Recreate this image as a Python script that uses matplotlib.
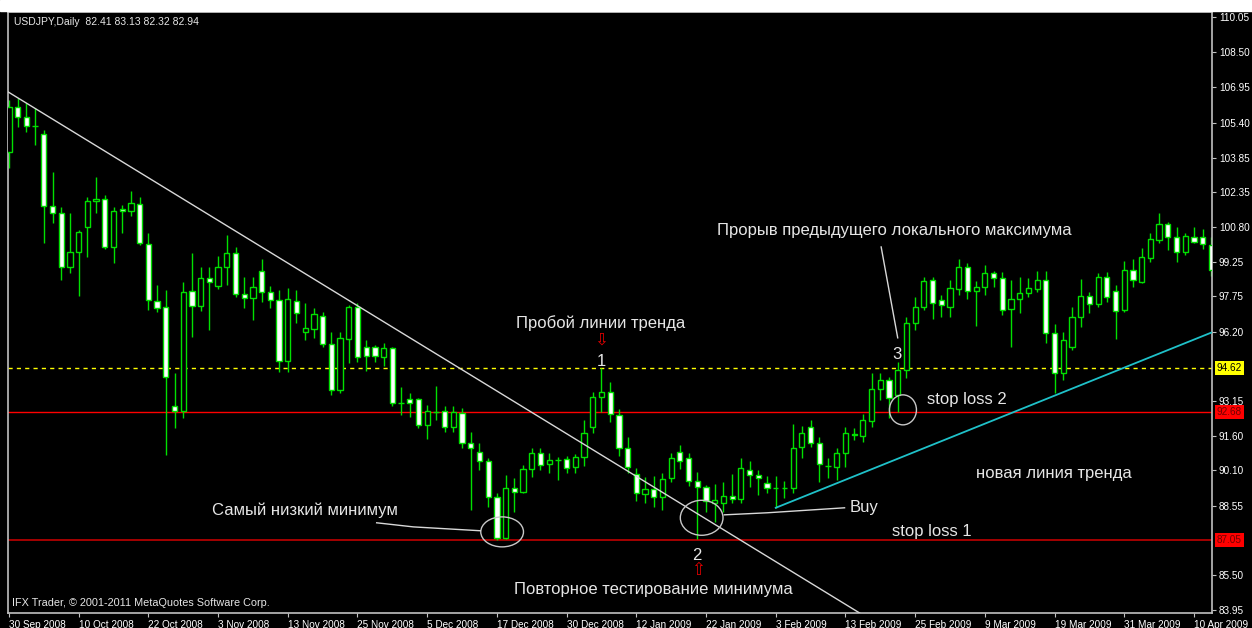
import matplotlib.pyplot as plt
from matplotlib.patches import Ellipse, Rectangle
import numpy as np

# ---- data (USDJPY daily) ----
date_labels = ['30 Sep 2008', '10 Oct 2008', '22 Oct 2008', '3 Nov 2008', '13 Nov 2008',
               '25 Nov 2008', '5 Dec 2008', '17 Dec 2008', '30 Dec 2008', '12 Jan 2009',
               '22 Jan 2009', '3 Feb 2009', '13 Feb 2009', '25 Feb 2009', '9 Mar 2009',
               '19 Mar 2009', '31 Mar 2009', '10 Apr 2009']
date_bars = [0, 8, 16, 24, 32, 40, 48, 56, 64, 72, 80, 88, 96, 104, 112, 120, 128, 136]

opens = [104.11, 106.09, 105.65, 105.26, 104.90, 101.74, 101.43, 99.05, 99.71, 100.81,
         101.96, 102.04, 99.93, 101.60, 101.52, 101.82, 100.06, 97.56, 97.29, 92.94,
         92.72, 98.00, 97.34, 98.57, 98.22, 99.05, 99.67, 97.86, 97.69, 98.88,
         97.95, 97.60, 94.92, 97.56, 96.19, 96.32, 96.90, 95.66, 93.64, 95.88,
         97.29, 95.53, 95.53, 95.09, 95.47, 93.07, 93.24, 93.24, 92.10, 92.67,
         92.72, 92.01, 92.63, 91.31, 90.91, 90.52, 88.93, 87.13, 89.33, 89.15,
         90.16, 90.87, 90.38, 90.56, 90.60, 90.25, 90.69, 92.01, 93.33, 93.55,
         92.54, 91.09, 89.94, 89.06, 89.28, 88.93, 89.77, 90.91, 90.65, 89.64,
         89.37, 88.67, 88.67, 88.98, 88.84, 90.12, 89.90, 89.55, 89.33, 89.33,
         89.33, 91.13, 92.01, 91.31, 90.30, 90.25, 90.87, 91.70, 91.62, 92.28,
         93.68, 94.08, 93.42, 94.52, 96.59, 97.29, 98.48, 97.60, 97.29, 98.08,
         99.05, 98.00, 98.17, 98.79, 98.57, 97.20, 97.64, 97.91, 98.08, 98.48,
         96.15, 94.39, 95.53, 96.85, 97.78, 97.42, 98.61, 98.00, 97.16, 98.92,
         98.39, 99.45, 100.24, 100.94, 100.37, 99.71, 100.37, 100.37, 100.02]
highs = [106.40, 106.49, 106.27, 106.05, 105.08, 103.23, 101.69, 101.43, 100.68, 102.13,
         103.01, 102.22, 101.69, 101.78, 102.40, 102.13, 100.55, 98.26, 98.04, 94.39,
         98.39, 99.67, 99.05, 99.05, 99.54, 100.46, 99.93, 98.61, 98.61, 99.40,
         98.22, 98.04, 98.13, 98.04, 97.47, 97.25, 97.07, 96.19, 96.19, 97.38,
         97.47, 95.84, 95.62, 95.71, 95.53, 93.77, 93.51, 93.29, 92.98, 93.82,
         92.94, 92.94, 92.85, 91.79, 91.31, 90.65, 89.11, 89.90, 89.77, 90.34,
         91.09, 91.09, 90.87, 90.69, 90.74, 90.82, 92.32, 93.55, 94.61, 94.00,
         92.80, 91.57, 90.21, 89.81, 89.86, 89.99, 90.87, 91.22, 90.87, 90.03,
         89.46, 89.50, 89.59, 89.94, 90.65, 90.52, 90.12, 89.86, 89.86, 89.64,
         92.14, 92.06, 92.32, 91.57, 90.65, 91.09, 92.01, 91.97, 92.58, 94.39,
         94.39, 94.21, 94.87, 96.85, 97.73, 98.61, 98.61, 97.82, 98.48, 99.40,
         99.23, 98.44, 99.14, 98.88, 98.83, 98.48, 98.61, 98.57, 98.88, 98.88,
         96.54, 96.19, 97.29, 98.52, 97.95, 98.79, 98.83, 98.26, 99.32, 99.40,
         99.89, 100.55, 101.43, 101.03, 100.81, 100.55, 100.81, 100.72, 100.37]
lows = [103.41, 105.21, 104.99, 104.42, 100.11, 100.99, 98.48, 98.79, 97.78, 99.49,
        101.43, 99.84, 99.23, 100.55, 101.30, 100.02, 97.16, 97.07, 90.78, 91.97,
        92.41, 95.97, 97.12, 96.28, 98.08, 98.26, 97.73, 97.25, 96.72, 97.51,
        97.25, 94.43, 94.43, 96.59, 95.84, 95.93, 95.53, 93.42, 93.51, 94.83,
        94.87, 94.48, 94.87, 94.70, 92.94, 92.54, 92.45, 91.97, 91.48, 92.32,
        91.79, 91.79, 91.09, 88.36, 90.12, 88.49, 87.04, 87.08, 88.27, 89.11,
        89.81, 90.12, 89.99, 89.68, 89.99, 89.99, 90.30, 91.75, 92.67, 92.23,
        90.74, 89.99, 88.76, 88.67, 88.49, 88.36, 89.59, 90.16, 89.42, 87.08,
        88.27, 87.83, 88.27, 88.67, 88.67, 89.37, 89.02, 89.11, 88.45, 88.89,
        89.11, 90.65, 91.13, 89.59, 89.77, 89.68, 90.25, 91.44, 91.35, 92.01,
        93.20, 92.41, 92.67, 94.17, 96.28, 97.16, 96.76, 96.85, 96.85, 97.82,
        97.64, 96.46, 97.82, 98.17, 96.94, 95.53, 97.03, 97.73, 97.95, 95.71,
        93.51, 94.08, 95.40, 96.41, 97.03, 97.29, 97.51, 95.88, 97.07, 98.17,
        98.35, 99.27, 100.11, 99.80, 99.27, 99.58, 100.11, 99.84, 98.66]
closes = [106.09, 105.65, 105.26, 105.24, 101.74, 101.43, 99.05, 99.71, 100.59, 101.96,
          102.04, 99.93, 101.52, 101.52, 101.87, 100.11, 97.60, 97.25, 94.21, 92.72,
          97.95, 97.34, 98.57, 98.39, 99.05, 99.67, 97.86, 97.69, 98.17, 97.95,
          97.60, 94.92, 97.64, 97.03, 96.37, 96.98, 95.66, 93.64, 95.93, 97.29,
          95.09, 95.14, 95.14, 95.49, 93.07, 93.05, 93.07, 92.10, 92.72, 92.67,
          92.01, 92.67, 91.31, 91.09, 90.52, 88.93, 87.13, 89.33, 89.15, 90.16,
          90.87, 90.34, 90.56, 90.56, 90.21, 90.69, 91.75, 93.33, 93.55, 92.58,
          91.09, 90.25, 89.11, 89.28, 88.93, 89.72, 90.65, 90.52, 89.64, 89.37,
          88.76, 88.80, 88.98, 88.84, 90.21, 89.90, 89.77, 89.33, 89.33, 89.33,
          91.09, 91.75, 91.31, 90.38, 90.30, 90.87, 91.75, 91.66, 92.32, 93.68,
          94.08, 93.29, 94.52, 96.59, 97.29, 98.44, 97.47, 97.38, 98.13, 99.05,
          98.00, 98.17, 98.79, 98.57, 97.16, 97.64, 97.91, 98.13, 98.48, 96.15,
          94.39, 95.84, 96.85, 97.78, 97.42, 98.61, 97.73, 97.12, 98.92, 98.48,
          99.49, 100.28, 100.94, 100.37, 99.71, 100.42, 100.15, 100.06, 98.92]

price_ticks = [110.05, 108.50, 106.95, 105.40, 103.85, 102.35, 100.80, 99.25, 97.75,
               96.20, 93.15, 91.60, 90.10, 88.55, 85.50, 83.95]

level_high = 94.62   # yellow dashed
level_sl2 = 92.68    # stop loss 2
level_sl1 = 87.05    # stop loss 1

# trend lines (bar, price)
down_trend = [(0, 106.73), (90, 85.61)]
up_trend = [(88, 88.45), (140, 96.47)]

# ---- plot ----
GREEN = '#00e000'
TXT = '#e6e6e6'
plt.rcParams['font.family'] = ['Liberation Sans', 'DejaVu Sans']

fig = plt.figure(figsize=(12.52, 6.28), dpi=100, facecolor='black')
ax = fig.add_axes([8 / 1252, 15 / 628, 1204 / 1252, 601 / 628])
ax.set_facecolor('black')

x = np.arange(len(opens))
o = np.array(opens)
c = np.array(closes)
ax.vlines(x, lows, highs, color=GREEN, lw=1, zorder=2)
fills = ['black' if cc > oo else 'white' for oo, cc in zip(o, c)]
ax.bar(x, np.abs(c - o), bottom=np.minimum(o, c), width=0.6, color=fills,
       edgecolor=GREEN, linewidth=1, zorder=3)

# horizontal levels
ax.axhline(level_high, color='#ffff00', lw=1, ls=(0, (3, 3)), zorder=1)
ax.axhline(level_sl2, color='#ff0000', lw=1, zorder=1)
ax.axhline(level_sl1, color='#c00000', lw=1.2, zorder=1)

# trend lines
ax.axline(down_trend[0], down_trend[1], color='#d8d8d8', lw=1, zorder=4)
ax.plot([p[0] for p in up_trend], [p[1] for p in up_trend], color='#1fc1c9', lw=1.3, zorder=4)

# ellipses
for cx, cy, w, h in [(56.6, 87.39, 4.9, 1.32), (79.5, 88.01, 4.9, 1.54), (102.6, 92.76, 3.1, 1.32)]:
    ax.add_patch(Ellipse((cx, cy), w, h, fill=False, edgecolor='#c8c8c8', lw=1, zorder=5))

# pointer lines
ax.plot([42.2, 46.4, 54.1], [87.79, 87.61, 87.44], color='#d8d8d8', lw=1, zorder=5)
ax.plot([82.1, 87.0, 95.9], [88.14, 88.23, 88.45], color='#d8d8d8', lw=1, zorder=5)
ax.plot([100.1, 102.0], [99.93, 95.93], color='#d8d8d8', lw=1, zorder=5)

# annotations
fs = 12.0
ax.text(67.9, 96.60, 'Пробой линии тренда', color=TXT, fontsize=fs, ha='center', va='center')
ax.text(74.0, 84.84, 'Повторное тестирование минимума', color=TXT, fontsize=fs, ha='center', va='center')
ax.text(34.0, 88.36, 'Самый низкий минимум', color=TXT, fontsize=fs, ha='center', va='center')
ax.text(96.5, 88.45, 'Buy', color=TXT, fontsize=fs, ha='left', va='center')
ax.text(101.3, 87.39, 'stop loss 1', color=TXT, fontsize=fs, ha='left', va='center')
ax.text(105.4, 93.20, 'stop loss 2', color=TXT, fontsize=fs, ha='left', va='center')
ax.text(111.0, 89.94, 'новая линия тренда', color=TXT, fontsize=fs, ha='left', va='center')
ax.text(81.3, 100.64, 'Прорыв предыдущего локального максимума', color=TXT, fontsize=fs,
        ha='left', va='center')
ax.text(68.0, 94.91, '1', color=TXT, fontsize=fs, ha='center', va='center')
ax.text(79.0, 86.34, '2', color=TXT, fontsize=fs, ha='center', va='center')
ax.text(101.9, 95.18, '3', color=TXT, fontsize=fs, ha='center', va='center')
ax.text(68.0, 95.84, '⇩', color='#e00000', fontsize=12, ha='center', va='center', family='DejaVu Sans')
ax.text(79.1, 85.70, '⇧', color='#e00000', fontsize=12, ha='center', va='center', family='DejaVu Sans')

# header / footer
ax.text(0.005, 0.983, 'USDJPY,Daily  82.41 83.13 82.32 82.94', transform=ax.transAxes,
        color=TXT, fontsize=7.5, ha='left', va='center')
ax.text(0.0033, 0.0166, 'IFX Trader, © 2001-2011 MetaQuotes Software Corp.', transform=ax.transAxes,
        color=TXT, fontsize=7.8, ha='left', va='center')

# axes
ax.set_xlim(-0.11, 138.07)
ax.set_ylim(83.82, 110.27)
for s in ax.spines.values():
    s.set_color('#c0c0c0')
    s.set_linewidth(1.2)
ax.yaxis.tick_right()
ax.set_yticks(price_ticks)
ax.set_yticklabels(['%.2f' % p for p in price_ticks])
ax.set_xticks(date_bars)
ax.set_xticklabels(date_labels, ha='left')
ax.tick_params(colors='#c0c0c0', labelcolor='white', labelsize=7.2, length=3, pad=2)

# price boxes on the axis
ytr = ax.get_yaxis_transform()
box_fs = 7.2
ax.text(1.004, level_high, '%.2f' % level_high, transform=ytr, fontsize=box_fs, color='black',
        ha='left', va='center', bbox=dict(boxstyle='square,pad=0.2', fc='#ffff00', ec='none'), clip_on=False)
ax.text(1.004, level_sl2, '%.2f' % level_sl2, transform=ytr, fontsize=box_fs, color='#700000',
        ha='left', va='center', bbox=dict(boxstyle='square,pad=0.2', fc='#ff0000', ec='none'), clip_on=False)
ax.text(1.004, level_sl1, '%.2f' % level_sl1, transform=ytr, fontsize=box_fs, color='#700000',
        ha='left', va='center', bbox=dict(boxstyle='square,pad=0.2', fc='#ff0000', ec='none'), clip_on=False)

# white window margin at the top
fig.patches.append(Rectangle((0, 1 - 11 / 628), 1, 11 / 628, transform=fig.transFigure,
                             color='white', zorder=0))

fig.savefig('out.png', dpi=100, facecolor='black')
